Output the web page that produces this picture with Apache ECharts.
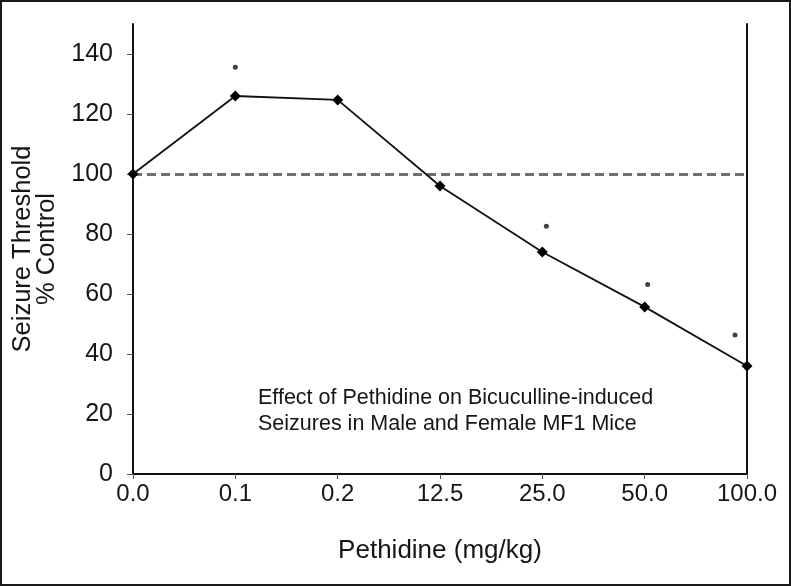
<!DOCTYPE html>
<html>
<head>
<meta charset="utf-8">
<script src="https://cdn.jsdelivr.net/npm/echarts@6/dist/echarts.min.js"></script>
<style>
html,body{margin:0;padding:0;background:#fff;}
#chart{width:791px;height:586px;}
</style>
</head>
<body>
<div id="chart"></div>
<script>
var categories = ['0.0', '0.1', '0.2', '12.5', '25.0', '50.0', '100.0'];
var thresholdValues = [100, 126, 124.7, 96, 74, 55.7, 36];
var significantValues = [null, 135.6, null, null, 82.6, 63.2, 46.3];
var yTicks = [0, 20, 40, 60, 80, 100, 120, 140];
var controlLevel = 100;
var xTitle = 'Pethidine (mg/kg)';
var yTitle = 'Seizure Threshold\n% Control';
var noteText = 'Effect of Pethidine on Bicuculline-induced\nSeizures in Male and Female MF1 Mice';

var FONT = '"Liberation Sans", Arial, sans-serif';
var TXT = '#161616';
var chart = echarts.init(document.getElementById('chart'), null, {renderer: 'canvas'});

var dotOffsets = [0, 0, 0, 0, 4, 3, -12];

chart.setOption({
  backgroundColor: '#ffffff',
  animation: false,
  title: {
    text: noteText,
    left: 258,
    top: 385,
    padding: 0,
    textStyle: {fontFamily: FONT, fontSize: 21.5, fontWeight: 'normal', color: TXT, lineHeight: 26}
  },
  graphic: [{
    type: 'rect',
    shape: {x: 1, y: 1, width: 789, height: 584},
    style: {fill: 'none', stroke: '#1a1a1a', lineWidth: 2},
    silent: true
  }],
  grid: {left: 133, right: 44, top: 24, bottom: 112, containLabel: false},
  xAxis: {
    type: 'category',
    data: categories,
    boundaryGap: false,
    name: xTitle,
    nameLocation: 'middle',
    nameGap: 64,
    nameTextStyle: {fontFamily: FONT, fontSize: 26, color: TXT},
    axisLine: {show: true, lineStyle: {color: '#111', width: 2}},
    axisTick: {show: true, inside: false, length: 5, lineStyle: {color: '#555', width: 1}},
    axisLabel: {fontFamily: FONT, fontSize: 24, color: TXT, margin: 8},
    splitLine: {show: false}
  },
  yAxis: [{
    type: 'value',
    min: 0,
    max: 150,
    interval: 10,
    name: yTitle,
    nameLocation: 'middle',
    nameGap: 67,
    nameTextStyle: {fontFamily: FONT, fontSize: 25.5, color: TXT, lineHeight: 24},
    axisLine: {show: true, lineStyle: {color: '#111', width: 2}},
    axisTick: {show: true, inside: false, length: 6, customValues: yTicks, lineStyle: {color: '#555', width: 1}},
    axisLabel: {fontFamily: FONT, fontSize: 25, color: TXT, margin: 20, customValues: yTicks},
    splitLine: {show: false}
  }, {
    type: 'value',
    position: 'right',
    min: 0,
    max: 150,
    axisLine: {show: true, lineStyle: {color: '#111', width: 2}},
    axisTick: {show: false},
    axisLabel: {show: false},
    splitLine: {show: false}
  }],
  series: [{
    type: 'line',
    data: thresholdValues,
    symbol: 'diamond',
    symbolSize: 11,
    itemStyle: {color: '#000'},
    lineStyle: {color: '#111', width: 1.8},
    z: 5,
    markLine: {
      silent: true,
      symbol: 'none',
      label: {show: false},
      lineStyle: {color: '#707070', type: [9, 5], width: 2.8},
      data: [{yAxis: controlLevel}]
    }
  }, {
    type: 'scatter',
    data: significantValues.map(function (v, i) {
      return v == null ? null : {value: v, symbolOffset: [dotOffsets[i], 0]};
    }),
    symbol: 'circle',
    symbolSize: 5,
    itemStyle: {color: '#111'},
    z: 6
  }]
});
</script>
</body>
</html>
